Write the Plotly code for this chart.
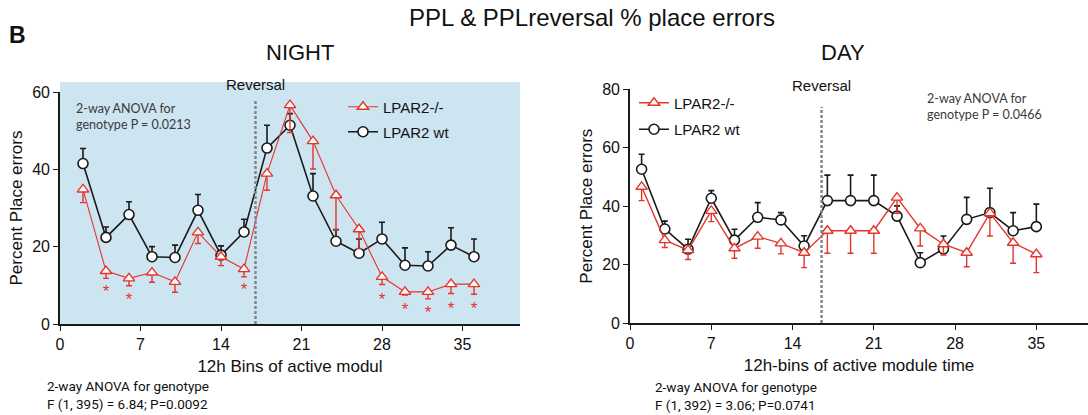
import plotly.graph_objects as go

W, H = 1088, 415

# ---------------- NIGHT data ----------------
night_x = [2, 4, 6, 8, 10, 12, 14, 16, 18, 20, 22, 24, 26, 28, 30, 32, 34, 36]
night_wt = [41.5, 22.4, 28.3, 17.4, 17.2, 29.4, 17.8, 23.8, 45.5, 51.4, 33.1, 21.4, 18.3, 22.0, 15.2, 15.0, 20.4, 17.4]
night_wt_err = [3.9, 2.7, 3.3, 2.6, 3.2, 4.1, 2.4, 3.3, 5.9, 3.0, 5.8, 3.0, 3.7, 4.3, 4.5, 3.7, 4.5, 4.6]
night_ko = [34.8, 13.7, 11.8, 13.3, 10.9, 23.7, 17.4, 14.2, 38.9, 56.6, 47.3, 33.3, 24.5, 12.2, 8.3, 8.3, 10.3, 10.3]
night_ko_err = [3.4, 1.9, 1.9, 2.5, 2.7, 2.9, 2.3, 2.0, 4.3, 7.1, 7.2, 9.0, 5.0, 2.0, 0.8, 1.8, 2.4, 2.6]
night_star_x = [4, 6, 16, 28, 30, 32, 34, 36]
night_star_y = [8.2, 6.0, 8.6, 6.1, 3.5, 2.6, 3.8, 3.6]
night_reversal = 17

# ---------------- DAY data ----------------
day_x = [1, 3, 5, 7, 9, 11, 13, 15, 17, 19, 21, 23, 25, 27, 29, 31, 33, 35]
day_wt = [52.6, 32.2, 25.3, 42.7, 28.4, 36.2, 35.3, 26.4, 41.9, 41.9, 41.9, 36.6, 20.7, 25.4, 35.5, 37.8, 31.6, 33.0]
day_wt_err = [5.1, 2.7, 3.4, 2.6, 3.7, 5.0, 2.5, 3.5, 8.7, 8.7, 8.7, 3.5, 3.4, 4.4, 7.5, 8.3, 6.2, 7.7]
day_ko = [46.6, 28.4, 25.0, 38.4, 25.6, 29.6, 27.3, 24.1, 31.6, 31.6, 31.6, 42.9, 32.4, 27.0, 24.1, 37.6, 27.5, 23.6]
day_ko_err = [4.7, 2.5, 3.2, 3.7, 3.4, 4.0, 3.6, 5.1, 7.7, 7.7, 7.7, 5.3, 6.0, 3.7, 4.8, 7.8, 7.0, 6.3]
day_reversal = 16.5

x_ticks = [0, 7, 14, 21, 28, 35]
night_y_ticks = [0, 20, 40, 60]
day_y_ticks = [0, 20, 40, 60, 80]

series_names = ["LPAR2-/-", "LPAR2 wt"]

RED = "#e5352b"
BLACK = "#1a1a1a"
BLUE_BG = "#cde4f1"
FONT = "Liberation Sans, Arial, sans-serif"
NARROW = "Roboto, Liberation Sans, sans-serif"
SOFT = "Lato, Open Sans, sans-serif"


def px_x(p):
    return p / W


def px_y(p):
    return (H - p) / H


fig = go.Figure()


def add_pair(xs, ko, ko_err, wt, wt_err, xa, ya, legend, red_w):
    fig.add_trace(go.Scatter(
        x=xs, y=wt, name=series_names[1], mode="lines+markers",
        xaxis=xa, yaxis=ya, legend=legend, legendrank=2, legendgroup=legend + "wt",
        line=dict(color=BLACK, width=1.6),
        marker=dict(symbol="circle", size=10, color="white", line=dict(color=BLACK, width=1.6)),
        error_y=dict(type="data", symmetric=False, array=wt_err,
                     arrayminus=[0] * len(wt_err), color=BLACK, thickness=1.6, width=3),
    ))
    fig.add_trace(go.Scatter(
        x=xs, y=ko, name=series_names[0], mode="lines+markers",
        xaxis=xa, yaxis=ya, legend=legend, legendrank=1, legendgroup=legend + "ko",
        line=dict(color=RED, width=red_w),
        marker=dict(symbol="triangle-up", size=10, color="white", line=dict(color=RED, width=1.4)),
        error_y=dict(type="data", symmetric=False, array=[0] * len(ko_err),
                     arrayminus=ko_err, color=RED, thickness=1.4, width=3),
    ))


add_pair(night_x, night_ko, night_ko_err, night_wt, night_wt_err, "x", "y", "legend", 1.1)
add_pair(day_x, day_ko, day_ko_err, day_wt, day_wt_err, "x2", "y2", "legend2", 1.4)

# significance stars
fig.add_trace(go.Scatter(
    x=night_star_x, y=night_star_y, mode="text", text=["*"] * len(night_star_x),
    textposition="middle center", textfont=dict(color=RED, size=17, family=FONT),
    xaxis="x", yaxis="y", showlegend=False, hoverinfo="skip", cliponaxis=False,
))

axis_common = dict(
    showline=True, linecolor=BLACK, linewidth=1.6, ticks="outside", ticklen=5,
    tickwidth=1.4, tickcolor=BLACK, showgrid=False, zeroline=False, automargin=False,
    tickfont=dict(family=FONT, size=16, color="#111"),
)

fig.update_layout(
    width=W, height=H, margin=dict(l=0, r=0, t=0, b=0, autoexpand=False),
    paper_bgcolor="white", plot_bgcolor="rgba(0,0,0,0)",
    showlegend=True,
    xaxis=dict(domain=[px_x(60), px_x(520)], range=[0, 40], tickvals=x_ticks,
               title=dict(text="12h Bins of active modul", font=dict(family=FONT, size=17, color="#111"), standoff=8),
               anchor="y", **axis_common),
    yaxis=dict(domain=[px_y(324), px_y(92)], range=[0, 60], tickvals=night_y_ticks,
               title=dict(text="Percent Place errors", font=dict(family=FONT, size=17, color="#111"), standoff=5),
               anchor="x", **axis_common),
    xaxis2=dict(domain=[px_x(630), 1.0], range=[0, 39.45], tickvals=x_ticks,
                title=dict(text="12h-bins of active module time", font=dict(family=FONT, size=17, color="#111"), standoff=8),
                anchor="y2", **axis_common),
    yaxis2=dict(domain=[px_y(323.3), px_y(89)], range=[0, 80], tickvals=day_y_ticks,
                title=dict(text="Percent Place errors", font=dict(family=FONT, size=17, color="#111"), standoff=5),
                anchor="x2", **axis_common),
    legend=dict(x=px_x(343), y=px_y(90.5), xanchor="left", yanchor="top",
                bgcolor="rgba(0,0,0,0)", font=dict(family=FONT, size=15, color="#111"),
                tracegroupgap=2.5, traceorder="grouped", itemwidth=30),
    legend2=dict(x=px_x(634), y=px_y(86.5), xanchor="left", yanchor="top",
                 bgcolor="rgba(0,0,0,0)", font=dict(family=FONT, size=15, color="#111"),
                 tracegroupgap=4, traceorder="grouped", itemwidth=30),
    title=dict(text="PPL & PPLreversal % place errors", x=px_x(592), y=px_y(18),
               xanchor="center", yanchor="middle", font=dict(family=FONT, size=24, color="#111")),
)

shapes = [
    dict(type="rect", xref="paper", yref="paper", x0=px_x(60), x1=px_x(520),
         y0=px_y(324), y1=px_y(82), fillcolor=BLUE_BG, line=dict(width=0), layer="below"),
    dict(type="line", xref="x", yref="paper", x0=night_reversal, x1=night_reversal,
         y0=px_y(324), y1=px_y(100), line=dict(color="#858585", width=2.5, dash="3px,2px")),
    dict(type="line", xref="x2", yref="paper", x0=day_reversal, x1=day_reversal,
         y0=px_y(323), y1=px_y(107), line=dict(color="#858585", width=2.5, dash="3px,2px")),
]
fig.update_layout(shapes=shapes)

annotations = [
    dict(text="<b>B</b>", x=px_x(7), y=px_y(35), xanchor="left", yanchor="middle",
         font=dict(family=FONT, size=23, color="#111")),
    dict(text="NIGHT", x=px_x(300), y=px_y(53), xanchor="center", yanchor="middle",
         font=dict(family=FONT, size=22, color="#111")),
    dict(text="DAY", x=px_x(843), y=px_y(53), xanchor="center", yanchor="middle",
         font=dict(family=FONT, size=22, color="#111")),
    dict(text="Reversal", xref="x", x=night_reversal, y=px_y(84), xanchor="center", yanchor="middle",
         font=dict(family=FONT, size=15, color="#111")),
    dict(text="Reversal", xref="x2", x=day_reversal, y=px_y(85), xanchor="center", yanchor="middle",
         font=dict(family=FONT, size=15, color="#111")),
    dict(text="2-way ANOVA for<br>genotype P = 0.0213", x=px_x(74), y=px_y(99), xanchor="left",
         yanchor="top", align="left", font=dict(family=SOFT, size=12.5, color="#3a3a3a")),
    dict(text="2-way ANOVA for<br>genotype P = 0.0466", x=px_x(925), y=px_y(89), xanchor="left",
         yanchor="top", align="left", font=dict(family=SOFT, size=12.5, color="#3a3a3a")),
    dict(text="2-way ANOVA for genotype<br>F (1, 395) = 6.84; P=0.0092", x=px_x(45), y=px_y(376),
         xanchor="left", yanchor="top", align="left", font=dict(family=NARROW, size=13.5, color="#111")),
    dict(text="2-way ANOVA for genotype<br>F (1, 392) = 3.06; P=0.0741", x=px_x(653), y=px_y(377),
         xanchor="left", yanchor="top", align="left", font=dict(family=NARROW, size=13.5, color="#111")),
]
for a in annotations:
    a.setdefault("xref", "paper")
    a["yref"] = "paper"
    a["showarrow"] = False
fig.update_layout(annotations=annotations)

fig.write_html("out.html")
